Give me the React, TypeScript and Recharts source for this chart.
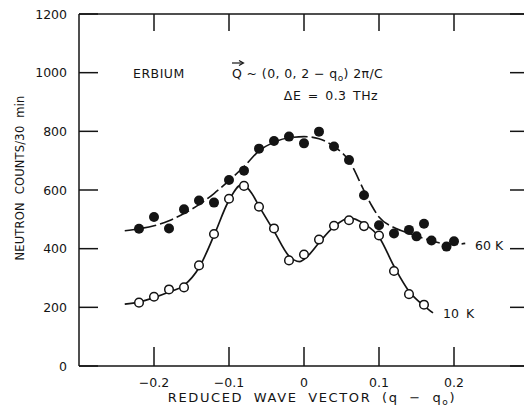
import React from 'react';
import { ComposedChart, Line, Scatter, XAxis, YAxis } from 'recharts';

const INK = '#141414';
const FONT = '"DejaVu Sans", sans-serif';

// axis ticks
const xTicks = [-0.2, -0.1, 0, 0.1, 0.2];
const xTickLabels = ['−0.2', '−0.1', '0', '0.1', '0.2'];
const yTicks = [0, 200, 400, 600, 800, 1000, 1200];

// 10 K measurements (open circles)
const q10K = [-0.22, -0.2, -0.18, -0.16, -0.14, -0.12, -0.1, -0.08, -0.06, -0.04, -0.02, 0, 0.02, 0.04, 0.06, 0.08, 0.1, 0.12, 0.14, 0.16];
const counts10K = [216, 236, 261, 268, 343, 450, 570, 614, 543, 469, 360, 380, 431, 478, 497, 477, 445, 324, 245, 209];

// 60 K measurements (filled circles)
const q60K = [-0.22, -0.2, -0.18, -0.16, -0.14, -0.12, -0.1, -0.08, -0.06, -0.04, -0.02, 0, 0.02, 0.04, 0.06, 0.08, 0.1, 0.12, 0.14, 0.15, 0.16, 0.17, 0.19, 0.2];
const counts60K = [468, 508, 469, 534, 564, 557, 634, 666, 741, 767, 782, 759, 799, 748, 702, 582, 480, 452, 464, 442, 485, 428, 407, 425];

// drawn curves
const fitQ10K = [-0.239, -0.22, -0.2, -0.18, -0.16, -0.14, -0.12, -0.1, -0.083, -0.07, -0.06, -0.04, -0.02, -0.006, 0.005, 0.02, 0.04, 0.061, 0.08, 0.1, 0.12, 0.14, 0.16, 0.172];
const fit10K = [211, 218, 233, 252, 275, 335, 445, 565, 618, 590, 545, 460, 375, 356, 375, 420, 475, 505, 485, 440, 340, 255, 205, 181];

const fitQ60K = [-0.239, -0.22, -0.2, -0.18, -0.16, -0.14, -0.12, -0.1, -0.08, -0.06, -0.04, -0.02, 0, 0.02, 0.04, 0.06, 0.08, 0.09, 0.1, 0.12, 0.14, 0.16, 0.18, 0.2, 0.215];
const fit60K = [461, 468, 478, 495, 520, 550, 588, 632, 680, 733, 763, 778, 782, 775, 748, 700, 598, 548, 508, 472, 452, 435, 420, 414, 418];

const zip = (qs: number[], vs: number[]) => qs.map((q, i) => ({ q, v: vs[i] }));

const pts10K = zip(q10K, counts10K);
const pts60K = zip(q60K, counts60K);
const curve10K = zip(fitQ10K, fit10K);
const curve60K = zip(fitQ60K, fit60K);

const textStyle = { fontFamily: FONT, fill: INK };

const BottomTick = (props: any) => {
  const { x, y, payload } = props;
  const label = xTickLabels[xTicks.indexOf(payload.value)];
  return (
    <g>
      <line x1={x} y1={y} x2={x} y2={y - 19} stroke={INK} strokeWidth={1.5} />
      <text x={x} y={y + 21} textAnchor="middle" fontSize={12.5} {...textStyle}>{label}</text>
    </g>
  );
};

const TopTick = (props: any) => {
  const { x, y } = props;
  return <line x1={x} y1={y} x2={x} y2={y + 17} stroke={INK} strokeWidth={1.5} />;
};

const LeftTick = (props: any) => {
  const { x, y, payload } = props;
  return (
    <g>
      <line x1={x} y1={y} x2={x + 19} y2={y} stroke={INK} strokeWidth={1.5} />
      <text x={x - 12} y={y + 4.5} textAnchor="end" fontSize={12.5} {...textStyle}>{payload.value}</text>
    </g>
  );
};

const RightTick = (props: any) => {
  const { x, y } = props;
  return <line x1={x} y1={y} x2={x - 19} y2={y} stroke={INK} strokeWidth={1.5} />;
};

const FilledDot = (p: any) => <circle cx={p.cx} cy={p.cy} r={5} fill={INK} />;
const OpenDot = (p: any) => <circle cx={p.cx} cy={p.cy} r={4.3} fill="#fff" stroke={INK} strokeWidth={1.5} />;

const YLabel = (props: any) => {
  const { viewBox } = props;
  const cx = viewBox.x + 20;
  const cy = viewBox.y + viewBox.height / 2 - 12;
  return (
    <text x={cx} y={cy} transform={`rotate(-90 ${cx} ${cy})`} textAnchor="middle" dominantBaseline="central"
      fontSize={11.5} letterSpacing={0.2} wordSpacing={4} {...textStyle}>
      NEUTRON COUNTS/30 min
    </text>
  );
};

const XLabel = () => (
  <text x={312} y={402} textAnchor="middle" fontSize={13} letterSpacing={1.6} wordSpacing={5} {...textStyle}>
    REDUCED WAVE VECTOR (q − q<tspan fontSize={9} dy={3}>o</tspan><tspan dy={-3}>)</tspan>
  </text>
);

const axisLine = { stroke: INK, strokeWidth: 1.5 };

export default function App() {
  return (
    <div style={{ position: 'absolute', left: 0, top: 0, width: 524, height: 410, overflow: 'hidden', background: '#fff' }}>
      <ComposedChart width={540} height={410} margin={{ top: 0, right: 0, bottom: 0, left: 0 }}>
        <XAxis xAxisId={0} dataKey="q" type="number" domain={[-0.3, 0.3]} ticks={xTicks} interval={0}
          height={44} tickSize={0} tickMargin={0} tickLine={false} axisLine={axisLine} tick={<BottomTick />}
          allowDataOverflow />
        <XAxis xAxisId="top" orientation="top" dataKey="q" type="number" domain={[-0.3, 0.3]} ticks={xTicks} interval={0}
          height={14} tickSize={0} tickMargin={0} tickLine={false} axisLine={axisLine} tick={<TopTick />}
          allowDataOverflow />
        <YAxis yAxisId={0} dataKey="v" type="number" domain={[0, 1200]} ticks={yTicks} interval={0}
          width={79} tickSize={0} tickMargin={0} tickLine={false} axisLine={axisLine} tick={<LeftTick />}
          label={<YLabel />} allowDataOverflow />
        <YAxis yAxisId="right" orientation="right" dataKey="v" type="number" domain={[0, 1200]} ticks={yTicks} interval={0}
          width={11} tickSize={0} tickMargin={0} tickLine={false} axisLine={axisLine} tick={<RightTick />}
          allowDataOverflow />

        <Line data={curve60K} dataKey="v" type="monotone" stroke={INK} strokeWidth={1.6} strokeDasharray="14 4"
          dot={false} activeDot={false} isAnimationActive={false} />
        <Line data={curve10K} dataKey="v" type="monotone" stroke={INK} strokeWidth={1.7}
          dot={false} activeDot={false} isAnimationActive={false} />
        <Scatter data={pts60K} dataKey="v" shape={<FilledDot />} isAnimationActive={false} />
        <Scatter data={pts10K} dataKey="v" shape={<OpenDot />} isAnimationActive={false} />

        <text x={133} y={78} fontSize={12.5} letterSpacing={0.5} {...textStyle}>ERBIUM</text>
        <line x1={232} y1={63} x2={243} y2={63} stroke={INK} strokeWidth={1.2} />
        <path d="M239,60.5 L243.5,63 L239,65.5" fill="none" stroke={INK} strokeWidth={1.2} />
        <text x={232} y={78} fontSize={12.5} letterSpacing={0.4} {...textStyle}>
          Q ~ (0, 0, 2 − q<tspan fontSize={9} dy={3}>o</tspan><tspan dy={-3}>) 2π/C</tspan>
        </text>
        <text x={331} y={100} textAnchor="middle" fontSize={12.5} letterSpacing={0.5} wordSpacing={2} {...textStyle}>
          ΔE = 0.3 THz
        </text>
        <text x={475} y={250} fontSize={12.5} {...textStyle}>60 K</text>
        <text x={443} y={318} fontSize={12.5} wordSpacing={3} {...textStyle}>10 K</text>
        <XLabel />
      </ComposedChart>
    </div>
  );
}
